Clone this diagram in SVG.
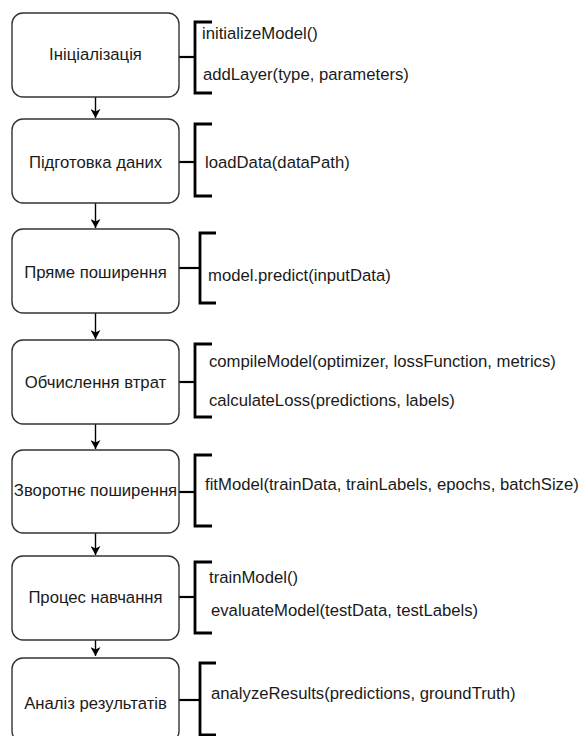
<svg xmlns="http://www.w3.org/2000/svg" width="582" height="736" viewBox="0 0 582 736">
  <style>
    .box { fill: #ffffff; stroke: #333333; stroke-width: 1.4; }
    .lbl { font-family: "Liberation Sans", Arial, sans-serif; font-size: 16.7px; fill: #1a1a1a; text-anchor: middle; }
    .txt { font-family: "Liberation Sans", Arial, sans-serif; font-size: 16.7px; fill: #1a1a1a; }
    .brk { fill: none; stroke: #000000; stroke-width: 2.8; }
    .lnk { fill: none; stroke: #000000; stroke-width: 2.2; }
    .arr { fill: none; stroke: #000000; stroke-width: 1.4; marker-end: url(#head); }
  </style>
  <defs>
    <marker id="head" markerWidth="10" markerHeight="10" refX="9" refY="5" orient="auto" markerUnits="userSpaceOnUse">
      <path d="M0,0 L9,5 L0,10 L2.5,5 Z" fill="#000000"/>
    </marker>
  </defs>
  <rect width="582" height="736" fill="#ffffff"/>

  <!-- flow arrows between steps -->
  <g id="connectors">
    <line class="arr" x1="95.5" y1="97" x2="95.5" y2="118"/>
    <line class="arr" x1="95.5" y1="203" x2="95.5" y2="228"/>
    <line class="arr" x1="95.5" y1="313" x2="95.5" y2="339"/>
    <line class="arr" x1="95.5" y1="424" x2="95.5" y2="449"/>
    <line class="arr" x1="95.5" y1="533" x2="95.5" y2="555"/>
    <line class="arr" x1="95.5" y1="640" x2="95.5" y2="656"/>
    <!-- links from each step to its bracket -->
    <line class="lnk" x1="179" y1="57" x2="195" y2="57"/>
    <line class="lnk" x1="179" y1="162" x2="195" y2="162"/>
    <line class="lnk" x1="179" y1="268" x2="200" y2="268"/>
    <line class="lnk" x1="179" y1="382" x2="195" y2="382"/>
    <line class="lnk" x1="179" y1="492" x2="195" y2="492"/>
    <line class="lnk" x1="179" y1="597" x2="195" y2="597"/>
    <line class="lnk" x1="179" y1="700" x2="200" y2="700"/>
  </g>

  <g id="step-init">
    <rect class="box" x="12" y="13" width="167" height="84" rx="11"/>
    <text class="lbl" x="95.5" y="60">Ініціалізація</text>
    <path class="brk" d="M212,22 H195 V93 H212"/>
    <text class="txt" x="202" y="39">initializeModel()</text>
    <text class="txt" x="203" y="80">addLayer(type, parameters)</text>
  </g>

  <g id="step-data">
    <rect class="box" x="12" y="119" width="167" height="84" rx="11"/>
    <text class="lbl" x="95.5" y="168">Підготовка даних</text>
    <path class="brk" d="M212,124 H195 V196 H212"/>
    <text class="txt" x="205" y="168">loadData(dataPath)</text>
  </g>

  <g id="step-forward">
    <rect class="box" x="12" y="229" width="167" height="84" rx="11"/>
    <text class="lbl" x="95.5" y="278">Пряме поширення</text>
    <path class="brk" d="M216,233 H200 V303 H216"/>
    <text class="txt" x="208" y="281">model.predict(inputData)</text>
  </g>

  <g id="step-loss">
    <rect class="box" x="12" y="340" width="167" height="84" rx="11"/>
    <text class="lbl" x="95.5" y="388">Обчислення втрат</text>
    <path class="brk" d="M212,344 H195 V417 H212"/>
    <text class="txt" x="209" y="367">compileModel(optimizer, lossFunction, metrics)</text>
    <text class="txt" x="209" y="406">calculateLoss(predictions, labels)</text>
  </g>

  <g id="step-backward">
    <rect class="box" x="12" y="450" width="167" height="83" rx="11"/>
    <text class="lbl" x="95.5" y="496">Зворотнє поширення</text>
    <path class="brk" d="M212,455 H195 V526 H212"/>
    <text class="txt" x="205" y="490">fitModel(trainData, trainLabels, epochs, batchSize)</text>
  </g>

  <g id="step-train">
    <rect class="box" x="12" y="556" width="167" height="84" rx="11"/>
    <text class="lbl" x="95.5" y="603">Процес навчання</text>
    <path class="brk" d="M212,562 H195 V633 H212"/>
    <text class="txt" x="209" y="583">trainModel()</text>
    <text class="txt" x="211" y="616">evaluateModel(testData, testLabels)</text>
  </g>

  <g id="step-results">
    <rect class="box" x="12" y="658" width="167" height="84" rx="11"/>
    <text class="lbl" x="95.5" y="709">Аналіз результатів</text>
    <path class="brk" d="M216,663 H200 V735 H216"/>
    <text class="txt" x="211" y="699">analyzeResults(predictions, groundTruth)</text>
  </g>
</svg>
